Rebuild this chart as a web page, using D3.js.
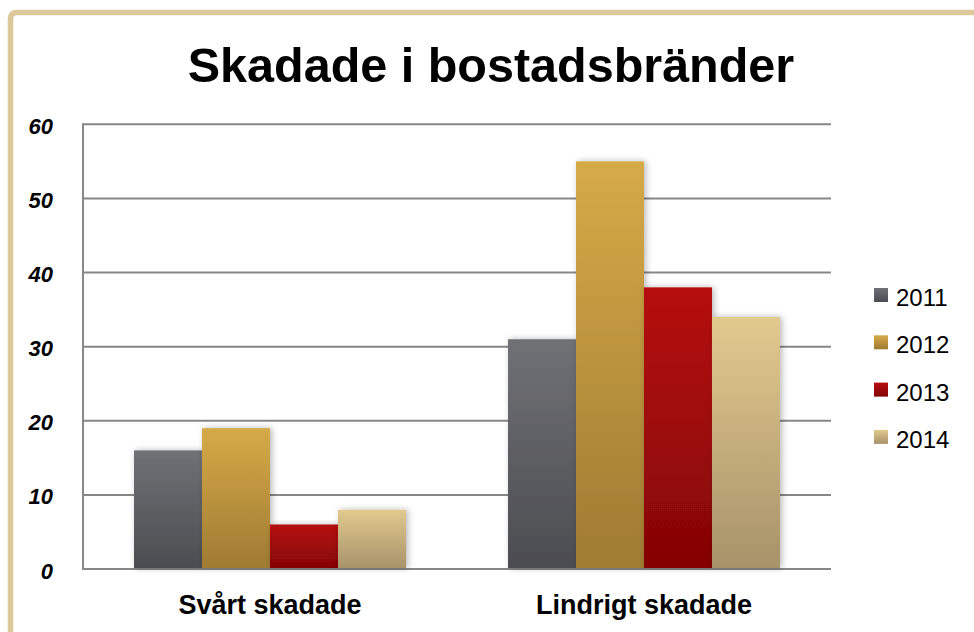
<!DOCTYPE html>
<html>
<head>
<meta charset="utf-8">
<script src="https://cdn.jsdelivr.net/npm/d3@7"></script>
<style>
  html, body { margin: 0; padding: 0; background: #fff; }
  svg { display: block; }
</style>
</head>
<body>
<svg id="chart" width="974" height="632"></svg>
<script>
const title = "Skadade i bostadsbränder";
const categories = ["Svårt skadade", "Lindrigt skadade"];
const years = ["2011", "2012", "2013", "2014"];
const v2011 = [16, 31];
const v2012 = [19, 55];
const v2013 = [6, 38];
const v2014 = [8, 34];
const yTicks = [0, 10, 20, 30, 40, 50, 60];

const seriesValues = [v2011, v2012, v2013, v2014];
const gradStops = [
  ["#707176", "#4b4c51"],
  ["#d6aa47", "#9f7b33"],
  ["#b60d0d", "#840505"],
  ["#e1ca8e", "#a8926a"]
];

const svg = d3.select("#chart");
const W = 974, H = 632;
const plot = { left: 83, right: 831, top: 124.3, bottom: 569 };

const defs = svg.append("defs");
gradStops.forEach((s, i) => {
  const g = defs.append("linearGradient").attr("id", "g" + i)
    .attr("x1", 0).attr("y1", 0).attr("x2", 0).attr("y2", 1);
  g.append("stop").attr("offset", "0%").attr("stop-color", s[0]);
  g.append("stop").attr("offset", "100%").attr("stop-color", s[1]);
});
const f = defs.append("filter").attr("id", "shadow")
  .attr("x", "-20%").attr("y", "-10%").attr("width", "140%").attr("height", "120%");
f.append("feDropShadow").attr("dx", 2).attr("dy", 0).attr("stdDeviation", 3)
  .attr("flood-color", "#000").attr("flood-opacity", 0.28);

// frame
svg.append("path")
  .attr("d", `M10.5,${H} V19 Q10.5,12.5 17,12.5 H${W}`)
  .attr("fill", "none").attr("stroke", "#dcc898").attr("stroke-width", 5.5);

// title
svg.append("text").attr("x", 491).attr("y", 82)
  .attr("text-anchor", "middle")
  .style("font-family", "'Liberation Sans', Arial, sans-serif")
  .style("font-weight", "bold").style("font-size", "48.5px").attr("fill", "#000")
  .text(title);

const y = d3.scaleLinear().domain([0, 60]).range([plot.bottom, plot.top]);
const x0 = d3.scaleBand().domain(categories).range([plot.left, plot.right]).padding(0);
const x1 = d3.scaleBand().domain(years)
  .range([x0.bandwidth() * 0.1364, x0.bandwidth() * (1 - 0.1364)]).padding(0);

// gridlines
const grid = svg.append("g");
grid.selectAll("line").data(yTicks).join("line")
  .attr("x1", plot.left).attr("x2", plot.right)
  .attr("y1", d => y(d)).attr("y2", d => y(d))
  .attr("stroke", "#878787").attr("stroke-width", 2);
svg.append("line").attr("x1", plot.left).attr("x2", plot.left)
  .attr("y1", y(60) - 1).attr("y2", y(0) + 1)
  .attr("stroke", "#878787").attr("stroke-width", 2);

// y labels
svg.append("g").selectAll("text").data(yTicks).join("text")
  .attr("x", 53).attr("y", d => y(d) + 9.5)
  .attr("text-anchor", "end")
  .style("font-family", "'Liberation Sans', Arial, sans-serif")
  .style("font-weight", "bold").style("font-style", "italic").style("font-size", "22px")
  .attr("fill", "#000")
  .text(d => d);

// bars
const groups = svg.append("g").selectAll("g").data(categories).join("g")
  .attr("transform", d => `translate(${x0(d)},0)`);
groups.selectAll("rect")
  .data((c, ci) => years.map((yr, si) => ({ yr, si, v: seriesValues[si][ci] })))
  .join("rect")
  .attr("x", d => x1(d.yr)).attr("width", x1.bandwidth())
  .attr("y", d => y(d.v)).attr("height", d => y(0) - y(d.v) - 1)
  .attr("fill", d => `url(#g${d.si})`)
  .attr("filter", "url(#shadow)");

// x labels
svg.append("g").selectAll("text").data(categories).join("text")
  .attr("x", d => x0(d) + x0.bandwidth() / 2).attr("y", 614)
  .attr("text-anchor", "middle")
  .style("font-family", "'Liberation Sans', Arial, sans-serif")
  .style("font-weight", "bold").style("font-size", "27px").attr("fill", "#000")
  .text(d => d);

// legend
const leg = svg.append("g").selectAll("g").data(years).join("g")
  .attr("transform", (d, i) => `translate(874,${288 + i * 47.3})`);
leg.append("rect").attr("width", 14).attr("height", 14)
  .attr("fill", (d, i) => `url(#g${i})`);
leg.append("text").attr("x", 22).attr("y", 18)
  .style("font-family", "'Liberation Sans', Arial, sans-serif")
  .style("font-size", "24px").attr("fill", "#000")
  .text(d => d);
</script>
</body>
</html>
